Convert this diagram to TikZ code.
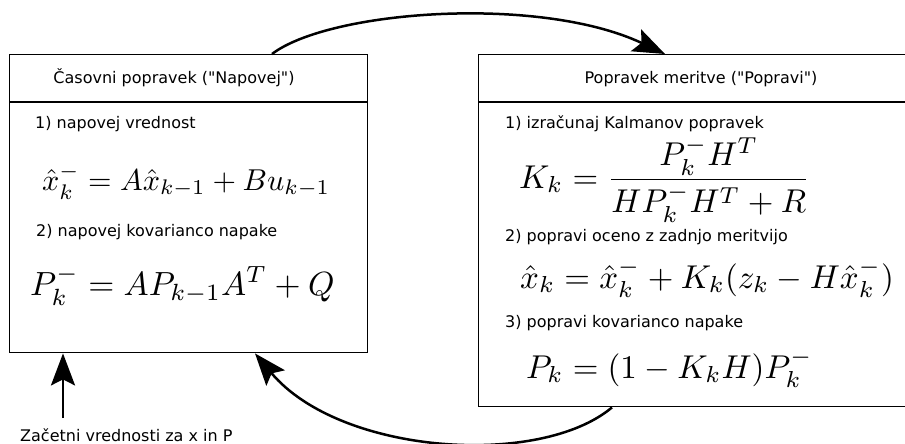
\documentclass[tikz,border=0pt]{standalone}
\usepackage{graphicx}
\usepackage{fontspec}
\setmainfont{DejaVu Sans}
\usetikzlibrary{arrows.meta}
\newcommand{\eqsize}[2]{\scalebox{#1}{$#2$}}
\begin{document}
\begin{tikzpicture}[x=1pt,y=-1pt,
  box/.style={draw,line width=1.4pt,inner sep=0pt,anchor=north west},
  sep/.style={line width=1.4pt},
  lbl/.style={anchor=base west,inner sep=0pt,font=\fontsize{16}{19}\selectfont},
  hdr/.style={anchor=base,inner sep=0pt,font=\fontsize{16}{19}\selectfont},
  eq/.style={anchor=base west,inner sep=0pt},
  flow/.style={line width=2.5pt,-{Stealth[length=32pt,width=24pt,inset=6pt]}}]
\useasboundingbox (0,0) rectangle (905,444);
% boxes
\node[box,minimum width=358pt,minimum height=298pt] (pred) at (9,54) {};
\node[box,minimum width=429pt,minimum height=352pt] (corr) at (478,54) {};
\draw[sep] ([yshift=-48pt]pred.north west) -- ([yshift=-48pt]pred.north east);
\draw[sep] ([yshift=-48pt]corr.north west) -- ([yshift=-48pt]corr.north east);
% headers
\node[hdr] (h1) at (174,84) {Časovni popravek (\textquotedbl Napovej\textquotedbl)};
\node[hdr] (h2) at (701,84) {Popravek meritve (\textquotedbl Popravi\textquotedbl)};
% left contents
\node[lbl] (l1) at (35,128) {1) napovej vrednost};
\node[eq] (e1) at (42,190) {\eqsize{3.02}{\hat{x}_k^- = A\hat{x}_{k-1} + Bu_{k-1}}};
\node[lbl] (l2) at (36,236) {2) napovej kovarianco napake};
\node[eq] (e2) at (30,295) {\eqsize{3.35}{P_k^- = AP_{k-1}A^T + Q}};
% right contents
\node[lbl] (r1) at (505,128) {1) izračunaj Kalmanov popravek};
\node[eq] (f1) at (519,188) {\eqsize{3.3}{\displaystyle K_k = \frac{P_k^- H^T}{HP_k^- H^T + R}}};
\node[lbl] (r2) at (505,241) {2) popravi oceno z zadnjo meritvijo};
\node[eq] (f2) at (520,288) {\eqsize{3.3}{\hat{x}_k = \hat{x}_k^- + K_k(z_k - H\hat{x}_k^-)}};
\node[lbl] (r3) at (505,327) {3) popravi kovarianco napake};
\node[eq] (f3) at (526,378) {\eqsize{3.3}{P_k = (1 - K_kH)P_k^-}};
% initial values
\node[lbl] (init) at (20,441) {Začetni vrednosti za x in P};
\coordinate (initstart) at (63,418);
% connectors
\draw[flow] ([xshift=263pt]pred.north west) .. controls (330,10) and (540,-5) .. ([xshift=187pt]corr.north west);
\draw[flow] ([xshift=134pt]corr.south west) .. controls (540,468) and (340,455) .. ([xshift=246pt]pred.south west);
\draw[flow] (initstart) -- (pred.south west -| initstart);
\end{tikzpicture}
\end{document}
